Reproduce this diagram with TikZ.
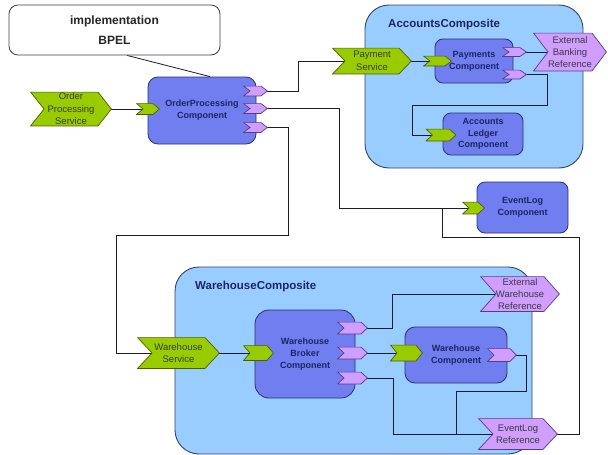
\documentclass[tikz,border=0pt]{standalone}
\usepackage{fontspec}
\setmainfont{Liberation Sans}
\usetikzlibrary{calc}

\pgfdeclarelayer{back}
\pgfdeclarelayer{wires}
\pgfsetlayers{back,wires,main}

\definecolor{compfill}{RGB}{112,126,240}
\definecolor{compline}{RGB}{40,50,120}
\definecolor{boxfill}{RGB}{153,204,255}
\definecolor{boxline}{RGB}{50,70,105}
\definecolor{svcfill}{RGB}{153,204,0}
\definecolor{svcline}{RGB}{75,95,0}
\definecolor{reffill}{RGB}{208,158,255}
\definecolor{refline}{RGB}{90,60,130}
\definecolor{navy}{RGB}{28,38,100}
\definecolor{labeltext}{RGB}{55,60,60}
\definecolor{wire}{RGB}{25,28,45}

\tikzset{
  % arrow-like shape: notch on the left, point on the right
  chev/.style n args={5}{rectangle, inner sep=0pt, outer sep=0pt,
    minimum width=#1pt, minimum height=#2pt,
    path picture={\filldraw[fill=#4, draw=#5, line width=0.7pt, line join=miter]
      ($(path picture bounding box.north west)+(0.6pt,-0.6pt)$)
      -- ($(path picture bounding box.north east)+(-#3pt,-0.6pt)$)
      -- ($(path picture bounding box.east)+(-0.6pt,0pt)$)
      -- ($(path picture bounding box.south east)+(-#3pt,0.6pt)$)
      -- ($(path picture bounding box.south west)+(0.6pt,0.6pt)$)
      -- ($(path picture bounding box.west)+(#3pt,0pt)$) -- cycle;}},
  svc/.style n args={3}{chev={#1}{#2}{#3}{svcfill}{svcline},
    font=\fontsize{9.5}{12.5}\selectfont, text=labeltext, align=center},
  ref/.style n args={3}{chev={#1}{#2}{#3}{reffill}{refline},
    font=\fontsize{9.5}{12}\selectfont, text=labeltext, align=center},
  svcport/.style n args={2}{chev={#1}{#2}{7}{svcfill}{svcline}},
  refport/.style n args={2}{chev={#1}{#2}{7}{reffill}{refline}},
  comp/.style n args={3}{draw=compline, fill=compfill, line width=0.8pt,
    rounded corners=#3pt, minimum width=#1pt, minimum height=#2pt, inner sep=0pt,
    font=\fontsize{9}{11.8}\selectfont\bfseries, text=navy, align=center},
  composite/.style n args={2}{draw=boxline, fill=boxfill, line width=0.9pt,
    rounded corners=24pt, minimum width=#1pt, minimum height=#2pt, inner sep=0pt},
  title/.style={font=\fontsize{11.5}{13}\selectfont\bfseries, text=navy, anchor=west, inner sep=0pt},
  note/.style={draw=black!75, fill=white, line width=0.8pt, rounded corners=9pt,
    minimum width=211pt, minimum height=50pt, inner sep=0pt,
    font=\fontsize{12}{14}\selectfont\bfseries, text=black!85, align=center},
  wireline/.style={draw=wire, line width=0.8pt},
}

\begin{document}
\begin{tikzpicture}[x=1pt, y=-1pt]
  \useasboundingbox (0,0) rectangle (608,455);

  % page background and composites
  \begin{pgfonlayer}{back}
    \fill[white] (0,0) rectangle (608,455);
    \node[composite={218}{163}] (acc) at (474,86.5) {};
    \node[composite={357}{187}] (wh) at (353.5,360.5) {};
  \end{pgfonlayer}
  \node[title] (accl) at (388,25) {AccountsComposite};
  \node[title] (whl) at (195,287) {WarehouseComposite};

  % implementation note
  \node[note] (note) at (114.5,30) {implementation\\[6.5pt]BPEL};

  % order processing
  \node[svc={82}{35}{14}] (ops) at (71,109) {Order\\Processing\\Service};
  \node[comp={108}{67}{10}] (opc) at (202,110.5) {OrderProcessing\\Component};
  \node[svcport={24}{12}] (opsp) at (148,109) {};
  \node[refport={25}{11}] (opr1) at (255.5,91) {};
  \node[refport={25}{11}] (opr2) at (255.5,108.5) {};
  \node[refport={25}{11}] (opr3) at (255.5,127.5) {};

  % accounts composite content
  \node[svc={80}{27}{13}] (ps) at (372,61) {Payment\\Service};
  \node[comp={78}{44}{8}] (pc) at (474,61) {Payments\\Component};
  \node[svcport={29}{11}] (psp) at (437.5,61) {};
  \node[refport={25}{10}] (par1) at (514.5,52) {};
  \node[refport={25}{10}] (par2) at (514.5,74.5) {};
  \node[ref={74}{39}{15}] (ebr) at (570,52) {External\\Banking\\Reference};
  \node[comp={80}{42}{8}] (alc) at (483,134) {Accounts\\Ledger\\Component};
  \node[svcport={31}{13}] (lsp) at (441,135) {};

  % event log component
  \node[comp={91}{51}{8}] (elc) at (522.5,207.5) {EventLog\\Component};
  \node[svcport={23}{13}] (elsp) at (473.5,208) {};

  % warehouse composite content
  \node[svc={83}{32}{15}] (wsv) at (178.5,353) {Warehouse\\Service};
  \node[comp={100}{88}{14}] (wbc) at (305,354) {Warehouse\\Broker\\Component};
  \node[svcport={31}{16}] (bsp) at (258.5,353) {};
  \node[refport={31}{13}] (br1) at (352.5,328) {};
  \node[refport={31}{13}] (br2) at (352.5,353) {};
  \node[refport={31}{13}] (br3) at (352.5,378) {};
  \node[comp={102}{56}{10}] (wc) at (456,355) {Warehouse\\Component};
  \node[svcport={33}{17}] (wcsp) at (406.5,353) {};
  \node[refport={30}{14}] (wcr) at (502,355) {};
  \node[ref={80}{36}{16}] (ewr) at (520,294) {External\\Warehouse\\Reference};
  \node[ref={80}{32}{15}] (elr) at (518,434) {EventLog\\Reference};

  % wires
  \begin{pgfonlayer}{wires}
    \path[wireline] ($(note.south)+(12.5,0)$) -- ($(opc.north)+(8,0)$);
    \path[wireline] (ops.center) -- (opsp.center);
    \path[wireline] (opr1.center) -- ++(42.5,0) |- (ps.center);
    \path[wireline] (opr2.center) -- ++(83.5,0) |- (elsp.center);
    \path[wireline] (opr3.center) -- ++(32.5,0) |- ++(-172,107.5) |- (wsv.center);
    \path (elsp.center) ++(-31.5,0) coordinate (elj);
    \path[wireline] (elj) |- ++(137,29) |- (elr.center);
    \path[wireline] (ps.center) -- (psp.center);
    \path[wireline] (par1.center) -- (ebr.center);
    \path[wireline] (par2.center) -- ++(32.5,0) |- ++(-135,30.5) |- (lsp.center);
    \path[wireline] (wsv.center) -- (bsp.center);
    \path[wireline] (br1.center) -- ++(40,0) |- (ewr.center);
    \path[wireline] (br2.center) -- (wcsp.center);
    \path[wireline] (br3.center) -- ++(40.5,0) |- (elr.center);
    \path[wireline] (wcr.center) -- ++(24,0) |- ++(-70,36) |- (elr.center);
  \end{pgfonlayer}
\end{tikzpicture}
\end{document}
